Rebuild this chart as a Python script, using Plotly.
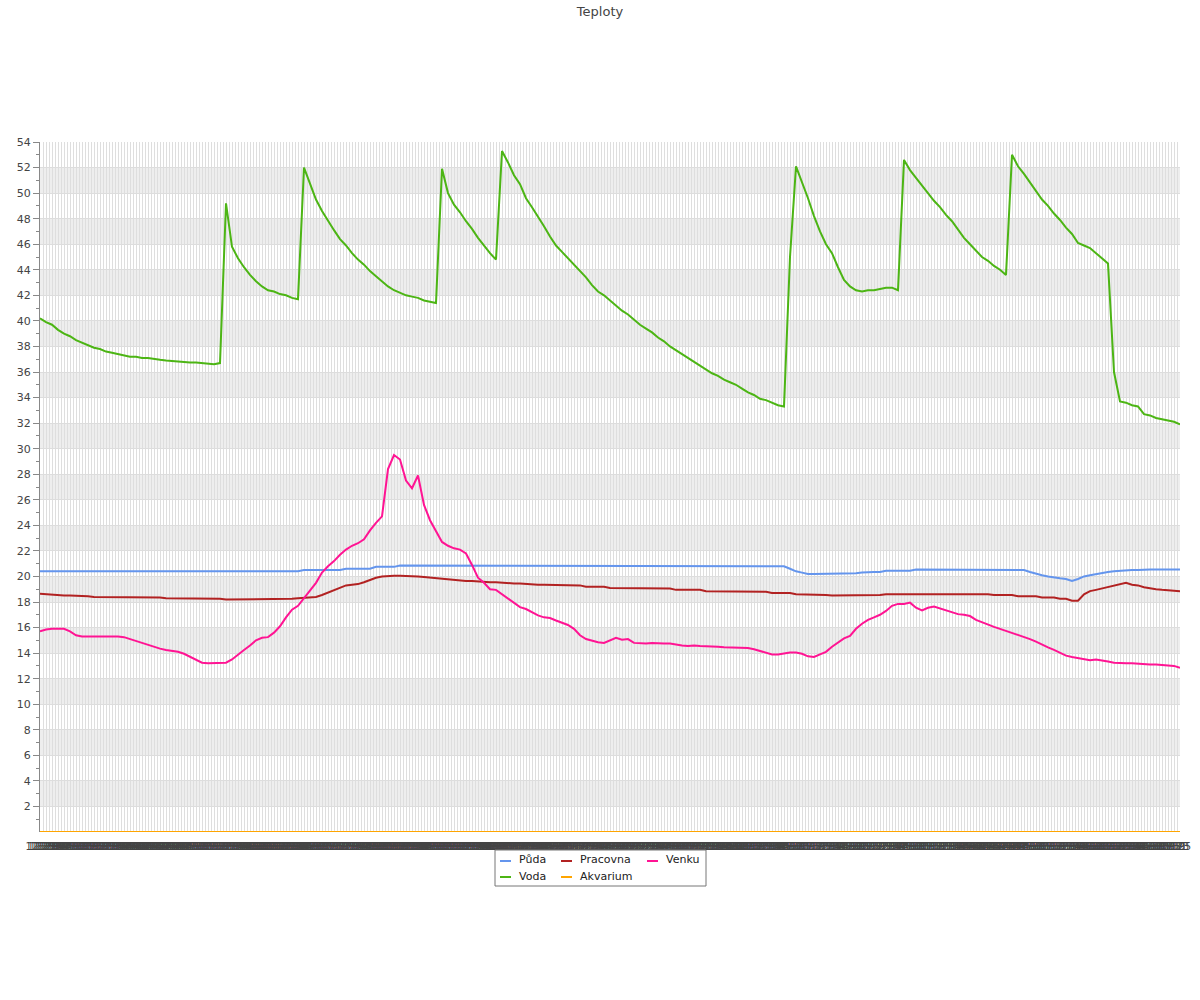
import plotly.graph_objects as go

# ---- data ----
puda = [
    20.4, 20.4, 20.4, 20.4, 20.4, 20.4, 20.4, 20.4, 20.4, 20.4,
    20.4, 20.4, 20.4, 20.4, 20.4, 20.4, 20.4, 20.4, 20.4, 20.4,
    20.4, 20.4, 20.4, 20.4, 20.35, 20.35, 20.35, 20.35, 20.35, 20.35,
    20.35, 20.35, 20.35, 20.35, 20.35, 20.35, 20.35, 20.4, 20.4, 20.4,
    20.4, 20.4, 20.4, 20.4, 20.5, 20.5, 20.5, 20.5, 20.5, 20.5,
    20.5, 20.6, 20.6, 20.6, 20.6, 20.6, 20.75, 20.75, 20.75, 20.75,
    20.85, 20.85, 20.85, 20.85, 20.85, 20.85, 20.85, 20.85, 20.85, 20.85,
    20.85, 20.85, 20.85, 20.85, 20.85, 20.85, 20.85, 20.85, 20.85, 20.85,
    20.85, 20.85, 20.85, 20.85, 20.85, 20.85, 20.85, 20.85, 20.85, 20.85,
    20.85, 20.85, 20.85, 20.85, 20.85, 20.85, 20.85, 20.85, 20.85, 20.85,
    20.85, 20.85, 20.85, 20.85, 20.85, 20.85, 20.85, 20.85, 20.85, 20.85,
    20.8, 20.8, 20.8, 20.8, 20.8, 20.8, 20.8, 20.8, 20.8, 20.8,
    20.8, 20.8, 20.8, 20.8, 20.8, 20.6, 20.4, 20.3, 20.2, 20.2,
    20.2, 20.2, 20.2, 20.2, 20.2, 20.2, 20.25, 20.3, 20.35, 20.35,
    20.35, 20.45, 20.45, 20.45, 20.45, 20.45, 20.55, 20.55, 20.55, 20.55,
    20.55, 20.55, 20.55, 20.55, 20.55, 20.55, 20.55, 20.55, 20.55, 20.55,
    20.55, 20.5, 20.5, 20.5, 20.5, 20.35, 20.2, 20.1, 20.0, 19.9,
    19.85, 19.8, 19.65, 19.8, 20.0, 20.1, 20.2, 20.3, 20.35, 20.4,
    20.45, 20.5, 20.5, 20.5, 20.55, 20.55, 20.55, 20.55, 20.55, 20.55,
    20.55,
]

voda = [
    40.2, 39.9, 39.7, 39.3, 39.0, 38.8, 38.5, 38.3, 38.1, 37.9,
    37.8, 37.6, 37.5, 37.4, 37.3, 37.2, 37.2, 37.1, 37.1, 37.0,
    36.95, 36.9, 36.85, 36.8, 36.8, 36.75, 36.75, 36.7, 36.65, 36.6,
    36.7, 49.2, 45.8, 44.9, 44.2, 43.6, 43.1, 42.7, 42.4, 42.3,
    42.1, 42.0, 41.8, 41.7, 52.0, 50.8, 49.5, 48.6, 47.8, 47.1,
    46.4, 45.9, 45.3, 44.8, 44.4, 43.9, 43.5, 43.1, 42.7, 42.4,
    42.2, 42.0, 41.9, 41.8, 41.6, 41.5, 41.4, 51.9, 50.0, 49.1,
    48.5, 47.8, 47.2, 46.5, 45.9, 45.3, 44.8, 53.3, 52.4, 51.4,
    50.7, 49.6, 48.9, 48.2, 47.4, 46.6, 45.9, 45.4, 44.9, 44.4,
    43.9, 43.4, 42.8, 42.3, 42.0, 41.6, 41.2, 40.8, 40.5, 40.1,
    39.7, 39.4, 39.1, 38.7, 38.4, 38.0, 37.7, 37.4, 37.1, 36.8,
    36.5, 36.2, 35.9, 35.7, 35.4, 35.2, 35.0, 34.7, 34.4, 34.2,
    33.9, 33.8, 33.6, 33.4, 33.3, 45.0, 52.1, 50.9, 49.6, 48.2,
    47.0, 46.0, 45.3, 44.2, 43.2, 42.7, 42.4, 42.3, 42.4, 42.4,
    42.5, 42.6, 42.6, 42.4, 52.6, 51.8, 51.2, 50.6, 50.0, 49.4,
    48.9, 48.3, 47.8, 47.1, 46.5, 46.0, 45.5, 45.0, 44.7, 44.3,
    44.0, 43.6, 53.0, 52.1, 51.5, 50.8, 50.2, 49.5, 49.0, 48.4,
    47.9, 47.3, 46.8, 46.1, 45.9, 45.7, 45.3, 44.9, 44.5, 36.0,
    33.7, 33.6, 33.4, 33.3, 32.7, 32.6, 32.4, 32.3, 32.2, 32.1,
    31.9,
]

pracovna = [
    18.65, 18.6, 18.6, 18.55, 18.5, 18.5, 18.5, 18.45, 18.45, 18.4,
    18.4, 18.35, 18.35, 18.35, 18.35, 18.35, 18.35, 18.35, 18.35, 18.35,
    18.35, 18.3, 18.3, 18.3, 18.3, 18.3, 18.3, 18.25, 18.25, 18.25,
    18.25, 18.2, 18.2, 18.2, 18.2, 18.2, 18.2, 18.2, 18.2, 18.2,
    18.2, 18.25, 18.25, 18.3, 18.35, 18.4, 18.4, 18.55, 18.75, 18.95,
    19.15, 19.3, 19.35, 19.4, 19.55, 19.75, 19.9, 20.0, 20.05, 20.05,
    20.05, 20.05, 20.05, 20.0, 19.95, 19.9, 19.85, 19.85, 19.8, 19.75,
    19.7, 19.65, 19.65, 19.6, 19.6, 19.55, 19.55, 19.5, 19.5, 19.45,
    19.45, 19.4, 19.4, 19.35, 19.35, 19.35, 19.35, 19.3, 19.3, 19.3,
    19.3, 19.2, 19.2, 19.2, 19.2, 19.1, 19.1, 19.1, 19.1, 19.1,
    19.1, 19.05, 19.05, 19.05, 19.05, 19.05, 18.95, 18.95, 18.95, 18.95,
    18.95, 18.85, 18.85, 18.85, 18.85, 18.85, 18.8, 18.8, 18.8, 18.8,
    18.8, 18.8, 18.7, 18.7, 18.7, 18.7, 18.6, 18.6, 18.6, 18.55,
    18.55, 18.55, 18.5, 18.5, 18.5, 18.5, 18.5, 18.5, 18.55, 18.55,
    18.55, 18.6, 18.6, 18.6, 18.65, 18.65, 18.65, 18.65, 18.65, 18.6,
    18.6, 18.6, 18.6, 18.6, 18.6, 18.6, 18.6, 18.6, 18.6, 18.55,
    18.55, 18.55, 18.55, 18.45, 18.45, 18.45, 18.45, 18.35, 18.35, 18.35,
    18.25, 18.25, 18.1, 18.1, 18.6, 18.85, 18.95, 19.05, 19.2, 19.3,
    19.4, 19.5, 19.35, 19.3, 19.15, 19.05, 19.0, 18.95, 18.9, 18.85,
    18.85,
]

venku = [
    15.7, 15.85, 15.9, 15.9, 15.9, 15.7, 15.4, 15.3, 15.3, 15.3,
    15.35, 15.3, 15.3, 15.3, 15.25, 15.1, 14.95, 14.8, 14.65, 14.45,
    14.35, 14.25, 14.2, 14.1, 13.95, 13.7, 13.45, 13.25, 13.2, 13.2,
    13.2, 13.25, 13.5, 13.9, 14.25, 14.6, 15.0, 15.2, 15.25, 15.6,
    16.1, 16.8, 17.4, 17.7, 18.3, 18.95, 19.5, 20.3, 20.8, 21.2,
    21.7, 22.1, 22.4, 22.6, 22.9, 23.6, 24.2, 24.7, 28.4, 29.5,
    29.15, 27.5, 26.9, 27.9, 25.6, 24.4, 23.5, 22.7, 22.4, 22.2,
    22.1, 21.8, 20.9, 19.9, 19.5, 19.0, 18.95, 18.6, 18.3, 17.9,
    17.6, 17.45, 17.2, 16.95, 16.8, 16.75, 16.55, 16.4, 16.2, 15.9,
    15.4, 15.1, 14.95, 14.85, 14.8, 15.0, 15.2, 15.05, 15.1, 14.8,
    14.75, 14.75, 14.8, 14.75, 14.75, 14.75, 14.65, 14.6, 14.55, 14.6,
    14.55, 14.55, 14.5, 14.5, 14.45, 14.45, 14.4, 14.4, 14.4, 14.3,
    14.15, 14.0, 13.9, 13.9, 14.0, 14.05, 14.05, 13.95, 13.75, 13.7,
    13.9, 14.1, 14.5, 14.85, 15.15, 15.35, 15.9, 16.3, 16.6, 16.8,
    17.0, 17.3, 17.7, 17.85, 17.85, 17.95, 17.55, 17.35, 17.55, 17.65,
    17.5, 17.4, 17.2, 17.05, 17.0, 16.9, 16.6, 16.4, 16.2, 16.05,
    15.9, 15.75, 15.6, 15.45, 15.3, 15.1, 14.9, 14.65, 14.45, 14.25,
    14.05, 13.8, 13.7, 13.6, 13.5, 13.45, 13.5, 13.45, 13.35, 13.25,
    13.2, 13.2, 13.2, 13.15, 13.15, 13.1, 13.1, 13.05, 13.0, 13.0,
    12.85,
]

akvarium = [0.0] * len(voda)

n = len(voda)
x = list(range(n))

# grid positions (every half sample step) and tick label positions
# (labels are illegible and fully overlapping in the original)
grid_positions = [i / 2 for i in range(2 * (n - 1) + 1)]
label_positions = [i / 3 for i in range(3 * (n - 1) + 1)]
start_minutes = 12 * 60 + 25
step_minutes = 2
time_labels = [
    f"{((start_minutes + step_minutes * i) // 60) % 24}:{(start_minutes + step_minutes * i) % 60:02d}"
    for i in range(len(label_positions))
]

y_ticks = list(range(2, 55, 2))
y_minor = list(range(1, 54, 2))

series_names = ["Půda", "Pracovna", "Venku", "Voda", "Akvarium"]
series_values = [puda, pracovna, venku, voda, akvarium]
series_colors = ["#6495ED", "#B22222", "#FF1493", "#4CB514", "#FFA500"]

fig = go.Figure()
for name, vals, color in zip(series_names, series_values, series_colors):
    fig.add_trace(go.Scatter(
        x=x, y=vals, mode="lines", name=name,
        line=dict(color=color, width=2), showlegend=False,
    ))

def px_x(p):
    return (p - 40) / 1140

def px_y(p):
    return (832 - p) / 690

# alternating horizontal bands
shapes = []
for k in range(1, 27, 2):
    shapes.append(dict(type="rect", xref="paper", yref="y", x0=0, x1=1,
                       y0=2 * k, y1=2 * k + 2, fillcolor="#EEEEEE",
                       line=dict(width=0), layer="below"))

# legend (3 columns, 2 rows) drawn in a framed box below the plot
legend_cols = [500, 561, 647]
legend_rows = [861, 877]
legend_slots = [(0, 0), (0, 1), (0, 2), (1, 0), (1, 1)]
annotations = []
font_family = "DejaVu Sans, Verdana, sans-serif"
for (r, c), name, color in zip(legend_slots, series_names, series_colors):
    x0 = legend_cols[c]
    yy = legend_rows[r]
    shapes.append(dict(type="line", xref="paper", yref="paper",
                       x0=px_x(x0), x1=px_x(x0 + 11), y0=px_y(yy), y1=px_y(yy),
                       line=dict(color=color, width=2)))
    annotations.append(dict(text=name, xref="paper", yref="paper",
                            x=px_x(x0 + 19), y=px_y(yy - 1), xanchor="left", yanchor="middle",
                            showarrow=False, borderpad=0, borderwidth=0,
                            font=dict(size=11, color="#222222", family=font_family)))
shapes.append(dict(type="rect", xref="paper", yref="paper",
                   x0=px_x(495), x1=px_x(706), y0=px_y(886), y1=px_y(850),
                   line=dict(color="#777777", width=1), fillcolor="rgba(0,0,0,0)"))

fig.update_layout(
    width=1200, height=1000,
    margin=dict(l=40, r=20, t=142, b=168, autoexpand=False),
    paper_bgcolor="white", plot_bgcolor="white",
    font=dict(family=font_family, size=11, color="#444444"),
    title=dict(text="Teploty", x=0.5, xanchor="center", y=0.989, yanchor="middle",
               yref="container", font=dict(size=13, color="#444444", family=font_family)),
    shapes=shapes,
    annotations=annotations,
    showlegend=False,
)

fig.update_xaxes(
    range=[0, n - 1], automargin=False,
    tickmode="array", tickvals=label_positions, ticktext=time_labels,
    tickangle=0, tickfont=dict(size=10, color="#444444"),
    ticks="", ticklabelstandoff=7, showline=False, zeroline=False,
    showgrid=False,
    minor=dict(tickmode="array", tickvals=grid_positions, showgrid=True,
               gridcolor="#DEDEDE", gridwidth=1, ticks=""),
)

fig.update_yaxes(
    range=[0, 54], automargin=False, tickmode="array", tickvals=y_ticks,
    ticks="outside", ticklen=6, tickcolor="#888888",
    showline=True, linecolor="#888888", linewidth=1,
    showgrid=True, gridcolor="#DDDDDD", zeroline=False,
    tickfont=dict(size=11, color="#444444"),
    minor=dict(tickmode="array", tickvals=y_minor, ticks="outside", ticklen=3,
               tickcolor="#888888", showgrid=False),
)

fig.write_html("out.html", config={"displayModeBar": False},
               post_script="document.body.style.margin='0';")
